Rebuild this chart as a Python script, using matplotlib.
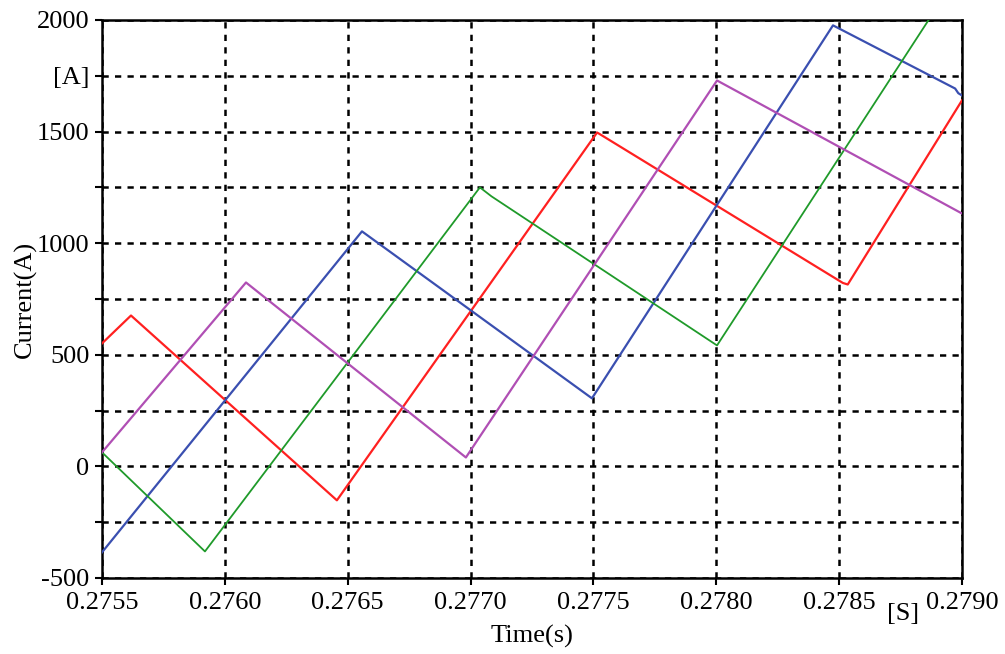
import numpy as np
import matplotlib
matplotlib.use("Agg")
import matplotlib.pyplot as plt

plt.rcParams['font.family'] = ['Liberation Serif', 'DejaVu Serif']

# vertices of each phase current (time in s, current in A)
t_red = [0.2755, 0.275618, 0.276456, 0.277515, 0.278515, 0.278535, 0.2790]
i_red = [551, 676, -152, 1496, 822, 815, 1640]

t_blue = [0.2755, 0.276558, 0.277494, 0.278475, 0.278972, 0.278985, 0.2790]
i_blue = [-385, 1053, 305, 1976, 1693, 1672, 1662]

t_green = [0.2755, 0.275919, 0.277038, 0.277085, 0.278003, 0.2790]
i_green = [63, -381, 1250, 1210, 542, 2230]

t_magenta = [0.2755, 0.276086, 0.276981, 0.278003, 0.2790]
i_magenta = [63, 824, 40, 1729, 1133]

x_ticks = [0.2755, 0.2760, 0.2765, 0.2770, 0.2775, 0.2780, 0.2785, 0.2790]
y_ticks = [-500, -250, 0, 250, 500, 750, 1000, 1250, 1500, 1750, 2000]
y_labels = ['-500', '', '0', '', '500', '', '1000', '', '1500', '[A]', '2000']

fig = plt.figure(figsize=(10.05, 6.54), dpi=100)
ax = fig.add_axes([102 / 1005, 76 / 654, 860 / 1005, 558 / 654])

ax.plot(t_red, i_red, color='#ff2020', lw=1.6, zorder=3)
ax.plot(t_blue, i_blue, color='#3a4fb0', lw=1.6, zorder=3)
ax.plot(t_green, i_green, color='#1f9a2a', lw=1.3, zorder=3)
ax.plot(t_magenta, i_magenta, color='#b04fb4', lw=1.6, zorder=3)

ax.set_xlim(0.2755, 0.2790)
ax.set_ylim(-500, 2000)
ax.set_xticks(x_ticks)
ax.set_xticklabels(['%.4f' % v for v in x_ticks])
ax.set_yticks(y_ticks)
ax.set_yticklabels(y_labels)

ax.grid(True, color='black', linestyle=(0, (2.5, 2.5)), linewidth=1.8, zorder=1)
for s in ax.spines.values():
    s.set_linewidth(1.8)
ax.tick_params(direction='out', length=5, width=1.5, labelsize=19)
ax.tick_params(axis='x', pad=5)
ax.tick_params(axis='y', pad=4)

ax.text(0.27876, -610, '[S]', ha='center', va='top', fontsize=19)
ax.set_xlabel('Time(s)', fontsize=19, labelpad=8)
ax.set_ylabel('Current(A)', fontsize=19, labelpad=0)

fig.savefig('out.png', dpi=100)
